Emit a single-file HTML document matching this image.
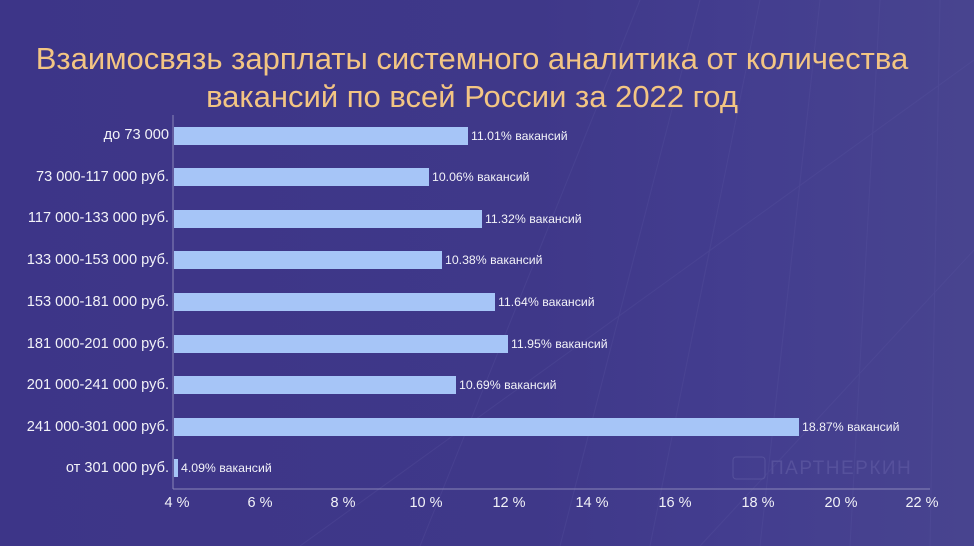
<!DOCTYPE html>
<html><head><meta charset="utf-8"><style>
body{margin:0}
#c{position:relative;width:974px;height:546px;overflow:hidden;font-family:"Liberation Sans",sans-serif;
background:linear-gradient(90deg,#3d3588 0%,#3f3889 55%,#433d8f 75%,#48448f 100%);}
.t{position:absolute;left:0;width:944px;text-align:center;color:#f3c583;font-size:31px;line-height:38px;top:40px}
.l{position:absolute;right:805px;color:#f2f2f8;font-size:14.6px;transform:translateY(-50%)}
.b{position:absolute;left:174px;height:18px;background:#a6c5f7;transform:translateY(-50%)}
.v{position:absolute;color:#f2f2f8;font-size:12.3px;transform:translateY(-50%)}
.x{position:absolute;top:495px;color:#f2f2f8;font-size:14.5px;transform:translateX(-50%)}
</style></head><body><div id="c">
<svg width="974" height="546" style="position:absolute;left:0;top:0">
<g stroke="#5a55a0" stroke-width="1" opacity="0.3">
<line x1="640" y1="0" x2="420" y2="546"/><line x1="700" y1="0" x2="560" y2="546"/>
<line x1="760" y1="0" x2="650" y2="546"/><line x1="820" y1="0" x2="760" y2="546"/>
<line x1="880" y1="0" x2="850" y2="546"/><line x1="940" y1="0" x2="930" y2="546"/>
<line x1="974" y1="60" x2="300" y2="546"/><line x1="974" y1="250" x2="700" y2="546"/>
</g>
<line x1="173" y1="115" x2="173" y2="489" stroke="#8a86b8" stroke-width="1"/>
<line x1="173" y1="489" x2="930" y2="489" stroke="#8a86b8" stroke-width="1"/>
<text x="770" y="474" font-family="Liberation Sans" font-size="19" fill="#56519c" letter-spacing="1.5">ПАРТНЕРКИН</text>
<rect x="733" y="457" width="32" height="22" rx="3" fill="none" stroke="#56519c"/>
</svg>
<div class="t">Взаимосвязь зарплаты системного аналитика от количества<br>вакансий по всей России за 2022 год</div>

<div class="l" style="top:135px">до 73 000</div><div class="b" style="top:136px;width:294px"></div><div class="v" style="top:136px;left:471px">11.01% вакансий</div>
<div class="l" style="top:177px">73 000-117 000 руб.</div><div class="b" style="top:177px;width:255px"></div><div class="v" style="top:177px;left:432px">10.06% вакансий</div>
<div class="l" style="top:218px">117 000-133 000 руб.</div><div class="b" style="top:219px;width:308px"></div><div class="v" style="top:219px;left:485px">11.32% вакансий</div>
<div class="l" style="top:260px">133 000-153 000 руб.</div><div class="b" style="top:260px;width:268px"></div><div class="v" style="top:260px;left:445px">10.38% вакансий</div>
<div class="l" style="top:302px">153 000-181 000 руб.</div><div class="b" style="top:302px;width:321px"></div><div class="v" style="top:302px;left:498px">11.64% вакансий</div>
<div class="l" style="top:344px">181 000-201 000 руб.</div><div class="b" style="top:344px;width:334px"></div><div class="v" style="top:344px;left:511px">11.95% вакансий</div>
<div class="l" style="top:385px">201 000-241 000 руб.</div><div class="b" style="top:385px;width:282px"></div><div class="v" style="top:385px;left:459px">10.69% вакансий</div>
<div class="l" style="top:427px">241 000-301 000 руб.</div><div class="b" style="top:427px;width:625px"></div><div class="v" style="top:427px;left:802px">18.87% вакансий</div>
<div class="l" style="top:468px">от 301 000 руб.</div><div class="b" style="top:468px;width:4px"></div><div class="v" style="top:468px;left:181px">4.09% вакансий</div>

<div class="x" style="left:177px">4 %</div><div class="x" style="left:260px">6 %</div><div class="x" style="left:343px">8 %</div>
<div class="x" style="left:426px">10 %</div><div class="x" style="left:509px">12 %</div><div class="x" style="left:592px">14 %</div>
<div class="x" style="left:675px">16 %</div><div class="x" style="left:758px">18 %</div><div class="x" style="left:841px">20 %</div>
<div class="x" style="left:922px">22 %</div>
</div></body></html>
